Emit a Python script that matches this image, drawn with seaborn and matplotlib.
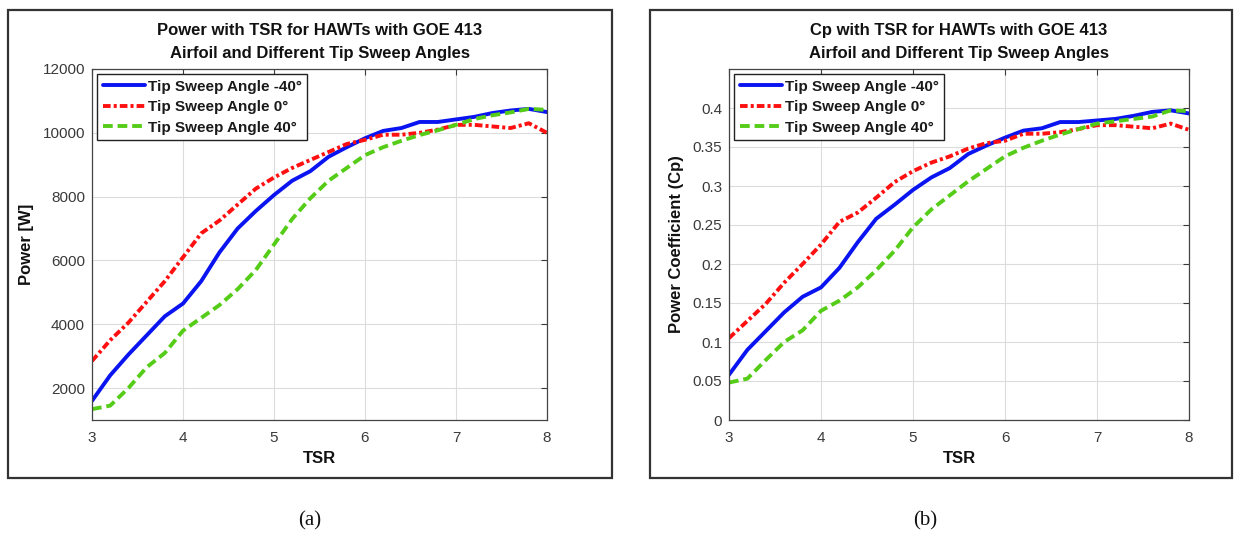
import numpy as np
import pandas as pd
import matplotlib
matplotlib.use("Agg")
import matplotlib.pyplot as plt
from matplotlib.patches import Rectangle
from matplotlib.ticker import FuncFormatter
import seaborn as sns

# Tip speed ratio samples
tsr = [3.0, 3.2, 3.4, 3.6, 3.8, 4.0, 4.2, 4.4, 4.6, 4.8, 5.0, 5.2, 5.4,
       5.6, 5.8, 6.0, 6.2, 6.4, 6.6, 6.8, 7.0, 7.2, 7.4, 7.6, 7.8, 8.0]

series_names = ["Tip Sweep Angle -40\u00b0", "Tip Sweep Angle 0\u00b0", "Tip Sweep Angle 40\u00b0"]

# Power [W]
power_m40 = [1600, 2400, 3050, 3650, 4250, 4650, 5350, 6250, 7000, 7550, 8050, 8500, 8800,
             9250, 9550, 9830, 10060, 10150, 10340, 10340, 10420, 10500, 10620, 10700, 10750, 10650]
power_0 = [2850, 3500, 4050, 4700, 5350, 6100, 6850, 7250, 7750, 8250, 8600, 8900, 9150,
           9400, 9650, 9780, 9940, 9940, 10000, 10100, 10250, 10250, 10200, 10150, 10300, 10000]
power_40 = [1340, 1450, 2000, 2650, 3100, 3800, 4200, 4600, 5100, 5700, 6500, 7300, 7950,
            8500, 8900, 9300, 9550, 9750, 9930, 10080, 10250, 10430, 10550, 10640, 10750, 10720]

# Power coefficient
cp_m40 = [0.058, 0.090, 0.114, 0.138, 0.158, 0.170, 0.195, 0.228, 0.258, 0.276, 0.295, 0.311, 0.323,
          0.341, 0.352, 0.362, 0.371, 0.374, 0.382, 0.382, 0.384, 0.386, 0.390, 0.395, 0.397, 0.393]
cp_0 = [0.105, 0.127, 0.149, 0.176, 0.200, 0.225, 0.254, 0.266, 0.285, 0.305, 0.319, 0.330, 0.338,
        0.348, 0.355, 0.358, 0.367, 0.367, 0.369, 0.373, 0.378, 0.378, 0.376, 0.374, 0.380, 0.372]
cp_40 = [0.048, 0.053, 0.077, 0.100, 0.115, 0.140, 0.153, 0.170, 0.192, 0.217, 0.247, 0.270, 0.288,
         0.306, 0.322, 0.338, 0.349, 0.358, 0.366, 0.373, 0.380, 0.383, 0.386, 0.389, 0.397, 0.396]

x_ticks = [3, 4, 5, 6, 7, 8]
power_ticks = [2000, 4000, 6000, 8000, 10000, 12000]
cp_ticks = [0, 0.05, 0.1, 0.15, 0.2, 0.25, 0.3, 0.35, 0.4]

sns.set_theme(style="white")
plt.rcParams["font.family"] = ["Liberation Sans", "DejaVu Sans"]
plt.rcParams["lines.scale_dashes"] = False

colors = ["#0a14f0", "#ff1010", "#55cc18"]
styles = [
    dict(linestyle="-"),
    dict(dashes=(5.5, 2.2, 2.2, 2.2)),
    dict(dashes=(7, 3.5)),
]

fig = plt.figure(figsize=(12.4, 5.35), dpi=100)

# Panel frames
for x0, x1 in [(8, 612), (650, 1232)]:
    fig.patches.append(Rectangle((x0 / 1240, (535 - 478) / 535), (x1 - x0) / 1240, (478 - 10) / 535,
                                 transform=fig.transFigure, fill=False, edgecolor="#333333", lw=1.6))

ax1 = fig.add_axes([92 / 1240, 115 / 535, 455 / 1240, 351 / 535])
ax2 = fig.add_axes([729 / 1240, 115 / 535, 460 / 1240, 351 / 535])


def draw(ax, ys, ylabel, title, ylim, yticks, fmt):
    for name, y, c, st in zip(series_names, ys, colors, styles):
        df = pd.DataFrame({"TSR": tsr, "val": y})
        sns.lineplot(data=df, x="TSR", y="val", ax=ax, color=c, lw=2.8, label=name, **st)
    ax.set_xlim(3, 8)
    ax.set_ylim(*ylim)
    ax.set_xticks(x_ticks)
    ax.set_yticks(yticks)
    ax.yaxis.set_major_formatter(FuncFormatter(fmt))
    ax.grid(True, color="#dcdcdc", lw=0.8)
    ax.tick_params(direction="in", top=True, right=True, length=4, width=0.8,
                   labelsize=11, colors="#3a3a3a", pad=5)
    ax.tick_params(axis="x", pad=8)
    for s in ax.spines.values():
        s.set_color("#444444")
        s.set_linewidth(0.9)
    ax.set_xlabel("TSR", fontsize=12, fontweight="bold", color="#111111", labelpad=4)
    ax.set_ylabel(ylabel, fontsize=12, fontweight="bold", color="#111111", labelpad=6)
    ax.set_title(title, fontsize=12, fontweight="bold", color="#111111", linespacing=1.65, pad=8)
    leg = ax.legend(loc="upper left", prop={"weight": "bold", "size": 11}, handlelength=2.8,
                    handletextpad=0.15, borderpad=0.35, labelspacing=0.42, fancybox=False,
                    framealpha=1, borderaxespad=0.35)
    leg.get_frame().set_edgecolor("#222222")
    leg.get_frame().set_linewidth(1.0)
    for t in leg.get_texts():
        t.set_color("#1a1a1a")


draw(ax1, [power_m40, power_0, power_40], "Power [W]",
     "Power with TSR for HAWTs with GOE 413\nAirfoil and Different Tip Sweep Angles",
     (1000, 12000), power_ticks, lambda v, p: f"{v:.0f}")
draw(ax2, [cp_m40, cp_0, cp_40], "Power Coefficient (Cp)",
     "Cp with TSR for HAWTs with GOE 413\nAirfoil and Different Tip Sweep Angles",
     (0, 0.45), cp_ticks, lambda v, p: f"{v:g}")

fig.text(310 / 1240, 1 - 521 / 535, "(a)", ha="center", va="center", fontsize=15,
         family=["Liberation Serif", "DejaVu Serif"], color="#111111")
fig.text(925 / 1240, 1 - 521 / 535, "(b)", ha="center", va="center", fontsize=15,
         family=["Liberation Serif", "DejaVu Serif"], color="#111111")

fig.savefig("out.png", dpi=100)
